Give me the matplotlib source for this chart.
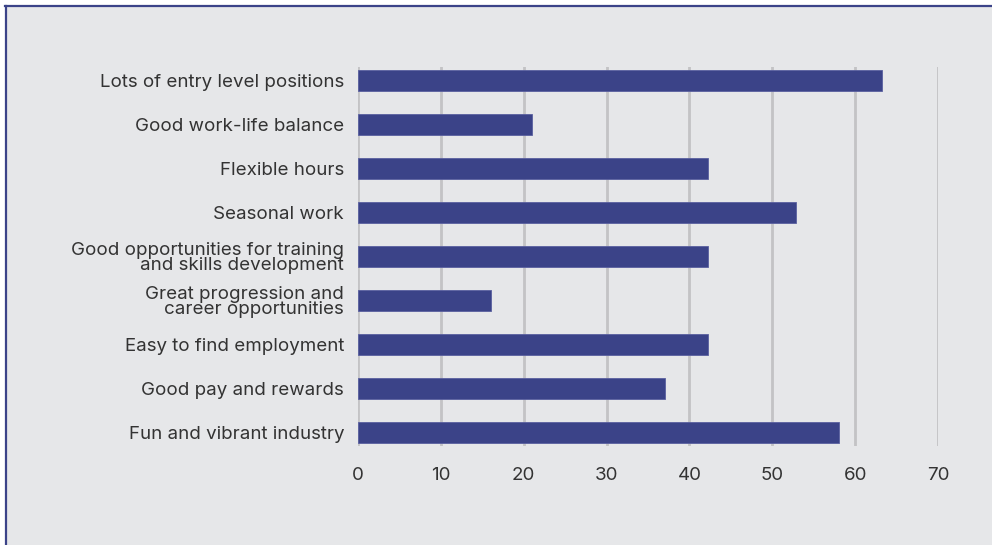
import matplotlib
matplotlib.use("Agg")
import matplotlib.pyplot as plt
from matplotlib.patches import Rectangle
from matplotlib.lines import Line2D

categories = [
    "Lots of entry level positions",
    "Good work-life balance",
    "Flexible hours",
    "Seasonal work",
    "Good opportunities for training\nand skills development",
    "Great progression and\ncareer opportunities",
    "Easy to find employment",
    "Good pay and rewards",
    "Fun and vibrant industry",
]
values = [63.2, 21.0, 42.2, 52.9, 42.2, 16.0, 42.2, 37.0, 58.0]
xticks = [0, 10, 20, 30, 40, 50, 60, 70]

plt.rcParams['font.family'] = ['Inter', 'DejaVu Sans']

W, H = 992, 545
fig = plt.figure(figsize=(W / 100, H / 100), dpi=100, facecolor="white")

bg = "#e6e7e9"
navy = "#3b4388"
txt = "#333333"

# background panel
fig.patches.append(Rectangle((5.5 / W, 0), 1, 1 - 5.5 / H, transform=fig.transFigure,
                             facecolor=bg, edgecolor="none", zorder=-10))
fig.lines.append(Line2D([5.7 / W, 5.7 / W], [0, 1 - 5.7 / H], transform=fig.transFigure,
                        color=navy, linewidth=1.6, zorder=-5))
fig.lines.append(Line2D([5.7 / W - 0.0008, 1], [1 - 5.7 / H, 1 - 5.7 / H], transform=fig.transFigure,
                        color=navy, linewidth=1.6, zorder=-5))

ax = fig.add_axes([358 / W, 1 - 446 / H, (938 - 358) / W, (446 - 67) / H])
ax.set_zorder(5)
ax.set_facecolor("none")

ypos = list(range(len(categories)))
ax.barh(ypos, values, height=0.476, color=navy, edgecolor="#5a60a0", linewidth=0.6, zorder=3)

ax.set_xlim(0, 70)
ax.set_ylim(8.295, -0.295)
ax.set_xticks(xticks)
ax.set_xticklabels([str(t) for t in xticks])
ax.set_yticks(ypos)
ax.set_yticklabels(categories, linespacing=0.88)

for t in xticks:
    ax.axvline(t, color="#c3c3c5", linewidth=2, zorder=1)

for s in ax.spines.values():
    s.set_visible(False)
ax.tick_params(axis="both", length=0, labelsize=13.5, colors=txt)
ax.tick_params(axis="y", pad=10)
ax.tick_params(axis="x", pad=15)

fig.savefig("out.png", dpi=100, facecolor="white")
